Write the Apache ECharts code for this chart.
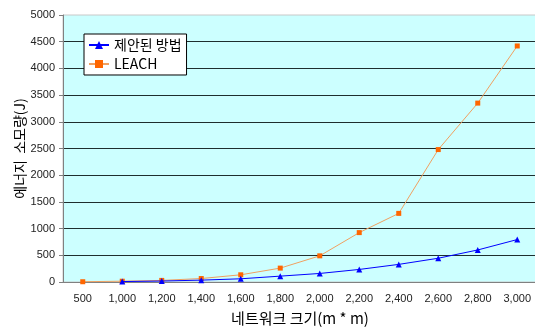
<!DOCTYPE html>
<html><head><meta charset="utf-8">
<script src="https://cdn.jsdelivr.net/npm/echarts@6/dist/echarts.min.js"></script>
<style>html,body{margin:0;padding:0;background:#fff}#c{width:535px;height:327px}</style>
</head><body><div id="c"></div>
<script>
const categories = ['500','1,000','1,200','1,400','1,600','1,800','2,000','2,200','2,400','2,600','2,800','3,000'];
const proposed = ['-', 8, 18, 35, 60, 110, 160, 235, 330, 445, 600, 795];
const leach = [5, 15, 30, 65, 135, 260, 490, 925, 1285, 2480, 3350, 4420];
const yTicks = {min: 0, max: 5000, interval: 500};
const seriesNames = ['제안된 방법', 'LEACH'];
const xName = '네트워크 크기(m * m)';
const yName = '에너지  소모량(J)';

const chart = echarts.init(document.getElementById('c'), null, {renderer: 'canvas'});
const tickFont = {fontFamily: 'Liberation Sans, Arial, sans-serif', fontSize: 11, color: '#222'};
chart.setOption({
  animation: false,
  backgroundColor: '#fff',
  grid: {left: 63, top: 15, width: 474, bottom: 45, outerBoundsMode: 'none', containLabel: false, show: true, backgroundColor: '#CCFFFF', borderColor: '#c8c8c8', borderWidth: 1},
  legend: {
    left: 84, top: 34, orient: 'vertical', backgroundColor: '#fff', borderColor: '#000', borderWidth: 1,
    padding: [4, 5, 4, 4], itemGap: 5, itemWidth: 20, itemHeight: 10,
    textStyle: {fontFamily: 'Noto Sans CJK KR, sans-serif', fontSize: 14, color: '#000'},
    data: seriesNames
  },
  xAxis: {
    type: 'category', data: categories, boundaryGap: true,
    name: xName, nameLocation: 'middle', nameGap: 29, nameMoveOverlap: false,
    nameTextStyle: {fontFamily: 'Noto Sans CJK KR, sans-serif', fontSize: 15, color: '#000'},
    axisLine: {lineStyle: {color: '#808080', width: 1}},
    axisTick: {lineStyle: {color: '#808080'}, length: 4},
    axisLabel: Object.assign({margin: 11}, tickFont)
  },
  yAxis: {
    type: 'value', min: yTicks.min, max: yTicks.max, interval: yTicks.interval,
    name: yName, nameLocation: 'middle', nameGap: 36, nameRotate: 90, nameMoveOverlap: false,
    nameTextStyle: {fontFamily: 'Noto Sans CJK KR, sans-serif', fontSize: 14, color: '#000'},
    axisLine: {show: true, lineStyle: {color: '#808080', width: 1}},
    axisTick: {show: true, lineStyle: {color: '#808080'}, length: 4},
    axisLabel: Object.assign({margin: 8, formatter: v => String(v)}, tickFont),
    splitLine: {show: true, showMaxLine: false, showMinLine: false, lineStyle: {color: '#1e2e2e', width: 1}}
  },
  series: [
    {
      name: seriesNames[0], type: 'line', data: proposed,
      symbol: 'triangle', symbolSize: 6,
      lineStyle: {color: '#0000ff', width: 1},
      itemStyle: {color: '#0000ff'}, z: 3
    },
    {
      name: seriesNames[1], type: 'line', data: leach,
      symbol: 'rect', symbolSize: 5,
      lineStyle: {color: '#f0a060', width: 1},
      itemStyle: {color: '#ff6600'}, z: 2
    }
  ]
});
</script></body></html>
